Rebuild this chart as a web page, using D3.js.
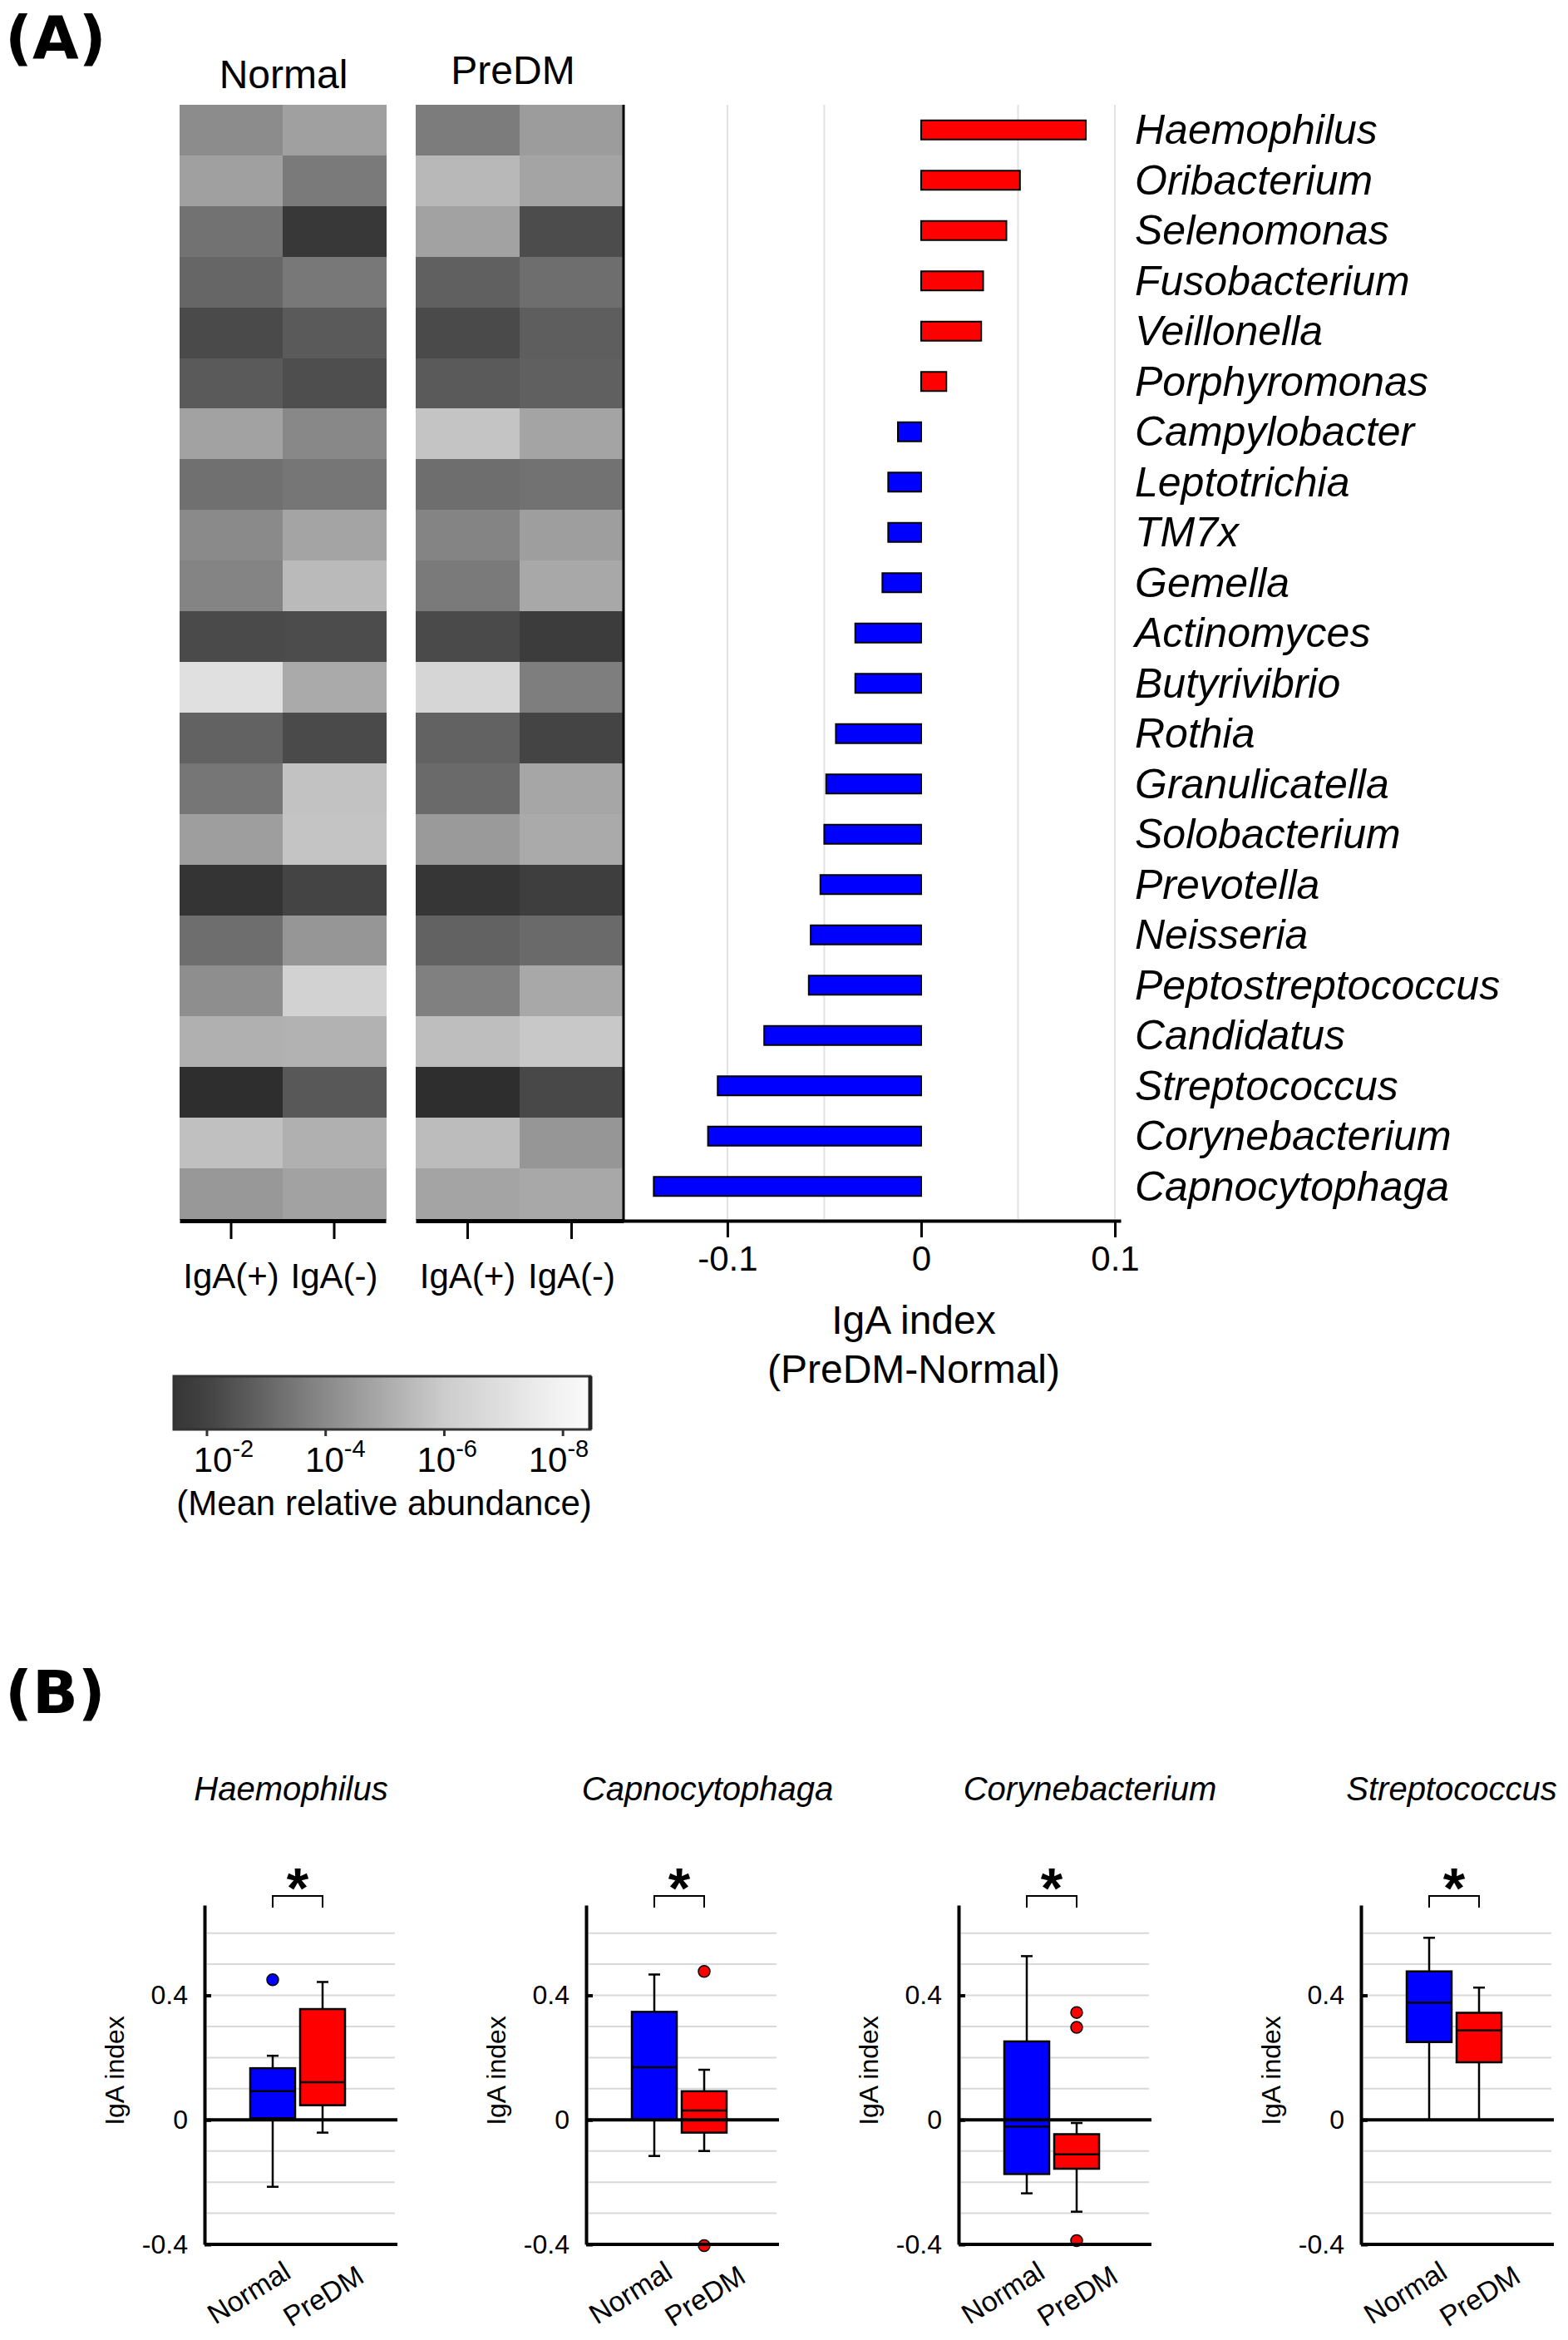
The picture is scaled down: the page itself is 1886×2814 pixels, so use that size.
<!DOCTYPE html>
<html>
<head>
<meta charset="utf-8">
<script src="https://cdn.jsdelivr.net/npm/d3@7"></script>
<style>
  body { margin: 0; background: #fff; }
  text { font-family: "Liberation Sans", Arial, sans-serif; fill: #000; }
</style>
</head>
<body>
<script>
// IgA index figure: heatmap + diverging bars (A), box plots (B)

// ---- data (A) ----
var species = ["Haemophilus", "Oribacterium", "Selenomonas", "Fusobacterium", "Veillonella",
  "Porphyromonas", "Campylobacter", "Leptotrichia", "TM7x", "Gemella", "Actinomyces",
  "Butyrivibrio", "Rothia", "Granulicatella", "Solobacterium", "Prevotella", "Neisseria",
  "Peptostreptococcus", "Candidatus", "Streptococcus", "Corynebacterium", "Capnocytophaga"];

// IgA index difference (PreDM - Normal)
var igaDiff = [0.085, 0.051, 0.044, 0.032, 0.031, 0.013, -0.012, -0.017, -0.017, -0.020,
  -0.034, -0.034, -0.044, -0.049, -0.050, -0.052, -0.057, -0.058, -0.081, -0.105, -0.110, -0.138];

// log10 mean relative abundance, per heatmap column
var normalPos = [-4.06, -4.67, -3.33, -3.00, -2.22, -2.67, -4.73, -3.28, -4.00, -3.83, -2.22,
  -7.00, -2.89, -3.44, -4.61, -1.36, -3.22, -4.12, -5.15, -1.10, -5.64, -4.42];
var normalNeg = [-4.67, -3.56, -1.55, -3.50, -2.67, -2.33, -3.94, -3.44, -4.79, -5.45, -2.28,
  -4.97, -2.22, -5.70, -5.76, -2.06, -4.36, -6.30, -5.21, -2.61, -5.15, -4.73];
var predmPos = [-3.61, -5.39, -4.73, -2.83, -2.22, -2.67, -5.76, -3.22, -3.83, -3.56, -2.22,
  -6.50, -2.89, -3.11, -4.48, -1.45, -2.89, -3.72, -5.58, -1.10, -5.52, -4.79];
var predmNeg = [-4.55, -4.79, -2.28, -3.22, -2.78, -2.83, -4.79, -3.33, -4.61, -4.91, -1.73,
  -3.67, -2.06, -4.85, -4.97, -1.82, -3.11, -4.91, -5.88, -2.17, -4.36, -4.91];

var heatCols = ["IgA(+)", "IgA(-)"];
var barTicks = [-0.1, 0, 0.1];
var barGrid = [-0.1, -0.05, 0.05, 0.1];
var colorTicks = [-2, -4, -6, -8];

// ---- data (B) ----
var boxSpecies = ["Haemophilus", "Capnocytophaga", "Corynebacterium", "Streptococcus"];
var boxGroups = ["Normal", "PreDM"];
// [whisker low, q1, median, q3, whisker high]
var boxNormal = [
  [-0.215, 0.005, 0.092, 0.166, 0.206],
  [-0.116, 0.000, 0.169, 0.347, 0.467],
  [-0.236, -0.174, -0.022, 0.252, 0.526],
  [0.000, 0.250, 0.377, 0.477, 0.585]];
var boxPreDM = [
  [-0.041, 0.047, 0.121, 0.356, 0.443],
  [-0.100, -0.041, 0.030, 0.092, 0.161],
  [-0.295, -0.157, -0.111, -0.046, -0.010],
  [0.000, 0.185, 0.287, 0.344, 0.425]];
var outNormal = [[0.45], [], [], []];
var outPreDM = [[], [0.477, -0.404], [0.345, 0.297, -0.388], []];
var boxTicks = [-0.4, 0, 0.4];
var boxGrid = [-0.3, -0.2, -0.1, 0.1, 0.2, 0.3, 0.4, 0.5, 0.6];

// ---- layout ----
var W = 1886, H = 2814;
var RED = "#ff0000", BLUE = "#0000ff";

var svg = d3.select("body").append("svg")
    .attr("width", W)
    .attr("height", H);

svg.append("text").attr("x", 6).attr("y", 70)
    .style("font-family", "DejaVu Sans").style("font-weight", "bold")
    .style("font-size", "72px").text("(A)");
svg.append("text").attr("x", 6).attr("y", 2060)
    .style("font-family", "DejaVu Sans").style("font-weight", "bold")
    .style("font-size", "72px").text("(B)");

var y = d3.scaleBand().domain(species).range([126, 1466]);      // heatmap rows
var yBar = d3.scaleBand().domain(species).range([126, 1457]);   // bar rows
var gray = d3.scaleLinear()
    .domain([-1, -2, -4, -6, -8, -8.6])
    .range([44, 66, 138, 204, 244, 252])
    .clamp(true);
function grayColor(v) {
  var g = Math.round(gray(v));
  return d3.rgb(g, g, g).toString();
}

// heatmaps
var heatmaps = [
  {title: "Normal", cols: [normalPos, normalNeg], x0: 216, x1: 464, tx: 341, ty: 106},
  {title: "PreDM",  cols: [predmPos, predmNeg],   x0: 500, x1: 750, tx: 617, ty: 101}
];

heatmaps.forEach(function(hm) {
  var xb = d3.scaleBand().domain(heatCols).range([hm.x0, hm.x1]);
  var g = svg.append("g");
  heatCols.forEach(function(c, ci) {
    g.selectAll(null).data(species).enter().append("rect")
        .attr("x", xb(c))
        .attr("y", function(s) { return y(s); })
        .attr("width", xb.bandwidth() + 0.5)
        .attr("height", y.bandwidth() + 0.5)
        .attr("fill", function(s, i) { return grayColor(hm.cols[ci][i]); })
        .attr("shape-rendering", "crispEdges");
  });
  var ax = svg.append("g")
      .attr("transform", "translate(0,1468)")
      .call(d3.axisBottom(xb).tickSize(22).tickSizeOuter(0).tickPadding(29));
  ax.select(".domain").attr("stroke-width", 5);
  ax.selectAll(".tick line").attr("stroke-width", 3);
  ax.selectAll("text").style("font-size", "42px")
      .style("font-family", "'Liberation Sans', Arial, sans-serif");
  svg.append("text").attr("x", hm.tx).attr("y", hm.ty)
      .attr("text-anchor", "middle").style("font-size", "48px").text(hm.title);
});

// diverging bars
var x = d3.scaleLinear().domain([-0.1536, 0.103]).range([750, 1348]);

svg.append("g").selectAll("line").data(barGrid).enter().append("line")
    .attr("x1", function(d) { return x(d); })
    .attr("x2", function(d) { return x(d); })
    .attr("y1", 126).attr("y2", 1466)
    .attr("stroke", "#e2e2e2").attr("stroke-width", 2);

var barH = 23;
svg.append("g").selectAll("rect").data(species).enter().append("rect")
    .attr("x", function(s, i) { return x(Math.min(0, igaDiff[i])); })
    .attr("y", function(s) { return yBar(s) + (yBar.bandwidth() - barH) / 2; })
    .attr("width", function(s, i) { return Math.abs(x(igaDiff[i]) - x(0)); })
    .attr("height", barH)
    .attr("fill", function(s, i) { return igaDiff[i] > 0 ? RED : BLUE; })
    .attr("stroke", "#000").attr("stroke-width", 2);

svg.append("g").selectAll("text").data(species).enter().append("text")
    .attr("x", 1365)
    .attr("y", function(s) { return yBar(s) + yBar.bandwidth() / 2; })
    .attr("dy", "0.34em")
    .style("font-size", "50px").style("font-style", "italic")
    .text(function(s) { return s; });

svg.append("line").attr("x1", 750).attr("x2", 750).attr("y1", 126).attr("y2", 1470)
    .attr("stroke", "#000").attr("stroke-width", 3);

var xa = svg.append("g").attr("transform", "translate(0,1468)")
    .call(d3.axisBottom(x).tickValues(barTicks).tickSize(20).tickSizeOuter(0).tickPadding(10)
      .tickFormat(function(d) { return String(d); }));
xa.select(".domain").attr("stroke-width", 4);
xa.selectAll(".tick line").attr("stroke-width", 3);
xa.selectAll("text").style("font-size", "42px")
    .style("font-family", "'Liberation Sans', Arial, sans-serif");

svg.append("text").attr("x", 1099).attr("y", 1604).attr("text-anchor", "middle")
    .style("font-size", "48px").text("IgA index");
svg.append("text").attr("x", 1099).attr("y", 1663).attr("text-anchor", "middle")
    .style("font-size", "48px").text("(PreDM-Normal)");

// colour bar
var cb = d3.scaleLinear().domain([-1.44, -8.46]).range([209, 710]);
var cbLabel = d3.scaleLinear().domain([-2, -8]).range([269, 672]);
var grad = svg.append("defs").append("linearGradient").attr("id", "cbar");
d3.range(0, 1.0001, 0.05).forEach(function(t) {
  grad.append("stop").attr("offset", t)
      .attr("stop-color", grayColor(cb.invert(209 + t * 501)));
});
svg.append("rect").attr("x", 209).attr("y", 1655).attr("width", 501).attr("height", 64)
    .attr("fill", "url(#cbar)").attr("stroke", "#333").attr("stroke-width", 3);
svg.append("line").attr("x1", 710).attr("x2", 710).attr("y1", 1655).attr("y2", 1719)
    .attr("stroke", "#222").attr("stroke-width", 5);
svg.append("g").selectAll("line").data(colorTicks).enter().append("line")
    .attr("x1", function(d) { return cb(d); }).attr("x2", function(d) { return cb(d); })
    .attr("y1", 1719).attr("y2", 1727)
    .attr("stroke", "#333").attr("stroke-width", 3);
var cbl = svg.append("g").selectAll("text").data(colorTicks).enter().append("text")
    .attr("x", function(d) { return cbLabel(d); })
    .attr("y", 1770).attr("text-anchor", "middle").style("font-size", "42px");
cbl.append("tspan").text("10");
cbl.append("tspan").attr("dy", -18).style("font-size", "29px")
    .text(function(d) { return String(d); });
svg.append("text").attr("x", 462).attr("y", 1822).attr("text-anchor", "middle")
    .style("font-size", "42px").text("(Mean relative abundance)");

// ---- (B) box plots ----
var panelX = [246, 705, 1153, 1637];
var titleX = [350, 851, 1311, 1746];
var yB = d3.scaleLinear().domain([-0.4, 0.69]).range([2699, 2291]);
var xB = d3.scaleOrdinal().domain(boxGroups).range([82, 142]);
var boxW = 54, panelW = 232;

function drawBox(g, cx, st, outs, color) {
  g.append("line").attr("x1", cx).attr("x2", cx)
      .attr("y1", yB(st[0])).attr("y2", yB(st[1]))
      .attr("stroke", "#000").attr("stroke-width", 2.5);
  g.append("line").attr("x1", cx).attr("x2", cx)
      .attr("y1", yB(st[3])).attr("y2", yB(st[4]))
      .attr("stroke", "#000").attr("stroke-width", 2.5);
  [st[0], st[4]].forEach(function(v) {
    g.append("line").attr("x1", cx - 7).attr("x2", cx + 7)
        .attr("y1", yB(v)).attr("y2", yB(v))
        .attr("stroke", "#000").attr("stroke-width", 2.5);
  });
  g.append("rect").attr("x", cx - boxW / 2).attr("width", boxW)
      .attr("y", yB(st[3])).attr("height", yB(st[1]) - yB(st[3]))
      .attr("fill", color).attr("stroke", "#000").attr("stroke-width", 2.5);
  g.append("line").attr("x1", cx - boxW / 2).attr("x2", cx + boxW / 2)
      .attr("y1", yB(st[2])).attr("y2", yB(st[2]))
      .attr("stroke", "#000").attr("stroke-width", 2.5);
  g.selectAll(null).data(outs).enter().append("circle")
      .attr("cx", cx).attr("cy", function(d) { return yB(d); }).attr("r", 7)
      .attr("fill", color).attr("stroke", "#000").attr("stroke-width", 1.5);
}

boxSpecies.forEach(function(name, i) {
  var g = svg.append("g").attr("transform", "translate(" + panelX[i] + ",0)");

  g.selectAll(".grid").data(boxGrid).enter().append("line")
      .attr("x1", 3).attr("x2", panelW - 3)
      .attr("y1", function(d) { return yB(d); }).attr("y2", function(d) { return yB(d); })
      .attr("stroke", "#d9d9d9").attr("stroke-width", 2);

  drawBox(g, xB("Normal"), boxNormal[i], outNormal[i], BLUE);
  drawBox(g, xB("PreDM"), boxPreDM[i], outPreDM[i], RED);

  g.append("line").attr("x1", 0).attr("x2", panelW)
      .attr("y1", yB(0)).attr("y2", yB(0))
      .attr("stroke", "#000").attr("stroke-width", 4);
  g.append("line").attr("x1", 0).attr("x2", panelW)
      .attr("y1", yB(-0.4)).attr("y2", yB(-0.4))
      .attr("stroke", "#000").attr("stroke-width", 4);

  var ya = g.append("g")
      .call(d3.axisLeft(yB).tickValues(boxTicks).tickSize(-8).tickSizeOuter(0).tickPadding(20)
        .tickFormat(function(d) { return String(d); }));
  ya.select(".domain").attr("stroke-width", 4);
  ya.selectAll(".tick line").attr("stroke-width", 4);
  ya.selectAll("text").style("font-size", "32px")
      .style("font-family", "'Liberation Sans', Arial, sans-serif");

  g.append("text").attr("transform", "translate(-97,2490) rotate(-90)")
      .attr("text-anchor", "middle").style("font-size", "32px").text("IgA index");

  // significance bracket
  var a = xB("Normal"), b = xB("PreDM");
  g.append("path").attr("d", "M" + a + ",2294V2280H" + b + "V2294")
      .attr("fill", "none").attr("stroke", "#000").attr("stroke-width", 2);
  g.append("text").attr("x", (a + b) / 2).attr("y", 2294).attr("text-anchor", "middle")
      .style("font-size", "68px").style("font-weight", "bold").text("*");

  svg.append("text").attr("x", titleX[i]).attr("y", 2165).attr("text-anchor", "middle")
      .style("font-size", "40px").style("font-style", "italic").text(name);

  g.append("text").attr("transform", "translate(106,2738) rotate(-32)")
      .attr("text-anchor", "end").style("font-size", "34px").text(boxGroups[0]);
  g.append("text").attr("transform", "translate(194,2743) rotate(-32)")
      .attr("text-anchor", "end").style("font-size", "34px").text(boxGroups[1]);
});
</script>
</body>
</html>
